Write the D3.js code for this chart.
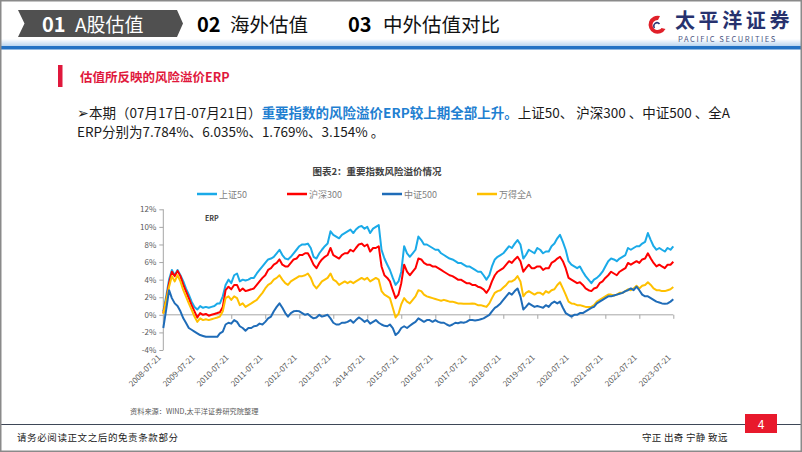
<!DOCTYPE html>
<html><head><meta charset="utf-8">
<script src="https://cdn.jsdelivr.net/npm/d3@7"></script>
<style>
html,body{margin:0;padding:0;background:#fff;}
svg{display:block;}
text{font-family:"Noto Sans CJK SC","Noto Sans",sans-serif;}
</style></head>
<body>
<svg id="c" width="802" height="452"></svg>
<script>
// ---------- DATA ----------
const startDate = "2008-07-21";   // first observation, monthly thereafter
const seriesNames = ["上证50", "沪深300", "中证500", "万得全A"];
const seriesColors = ["#1aaae8", "#ff0000", "#1f6cb8", "#ffc000"];
const tickLabels = ["2008-07-21","2009-07-21","2010-07-21","2011-07-21","2012-07-21","2013-07-21","2014-07-21","2015-07-21","2016-07-21","2017-07-21","2018-07-21","2019-07-21","2020-07-21","2021-07-21","2022-07-21","2023-07-21"];
const yTicks = [-4, -2, 0, 2, 4, 6, 8, 10, 12];

const sz50 = [0.4,2.1,4.0,5.1,4.5,5.1,4.5,3.8,3.0,2.3,1.5,0.9,
0.6,1.0,0.8,0.9,0.8,0.9,1.0,1.3,1.3,2.1,3.4,4.0,
3.6,4.5,4.7,3.8,4.0,3.9,4.0,4.2,4.2,4.7,5.1,5.5,
5.9,6.3,6.4,6.6,7.0,7.4,6.8,6.4,6.3,6.6,7.0,7.4,
7.8,8.0,8.0,8.1,7.6,6.6,6.4,7.0,7.4,7.8,8.1,9.5,
9.1,8.9,8.7,9.1,9.3,9.5,9.7,9.3,9.7,10.0,10.1,9.8,
10.0,9.3,9.8,10.0,10.2,7.4,6.4,5.7,5.1,4.2,3.4,3.8,
4.9,7.8,7.0,6.6,7.0,7.4,8.9,8.5,8.0,8.0,7.8,7.6,
7.4,7.4,7.0,6.8,6.6,6.4,6.3,6.1,5.9,5.9,5.7,5.5,
5.5,5.3,5.1,4.9,4.9,4.5,4.0,4.5,5.5,6.3,6.6,6.8,
7.0,7.4,7.8,7.6,8.1,8.5,8.0,6.4,6.8,7.4,7.2,7.0,
7.6,7.4,7.0,7.2,7.2,7.8,8.1,8.7,9.1,8.3,7.4,6.1,
5.7,5.5,5.3,5.5,4.9,4.4,4.0,3.6,4.0,4.2,4.5,4.9,
5.5,6.1,6.4,6.3,6.1,6.4,6.6,6.8,7.6,7.4,7.6,7.8,
7.8,8.1,8.3,9.3,8.5,7.8,7.4,7.6,7.4,7.2,7.6,7.4,
7.784];
const hs300 = [0.2,1.7,3.6,4.9,4.4,5.0,4.4,3.4,2.7,1.9,1.1,0.4,
-0.3,0.2,0.0,0.1,-0.1,0.0,0.1,0.2,0.3,0.9,2.8,3.2,
2.9,3.4,3.4,2.7,3.0,2.7,2.8,2.9,3.0,3.4,3.8,4.2,
4.5,5.1,5.3,5.7,5.9,6.3,5.7,5.5,5.5,5.9,6.3,6.4,
6.8,6.8,7.0,7.0,6.4,5.7,5.3,5.9,6.3,6.6,6.8,7.6,
6.8,6.6,6.4,6.8,7.0,7.0,7.4,7.2,7.6,8.0,8.1,7.8,
8.0,7.2,7.6,7.6,7.8,5.5,4.5,4.2,3.8,2.8,1.9,2.3,
3.6,5.7,4.9,4.5,4.9,5.3,6.4,6.3,5.9,5.7,5.7,5.5,
5.5,5.3,5.1,4.9,4.7,4.5,4.4,4.2,4.0,4.0,3.8,3.6,
3.6,3.4,3.4,3.2,3.1,2.9,2.5,3.0,3.8,4.5,4.9,5.1,
5.3,5.7,6.1,5.9,6.3,6.6,6.1,4.9,5.3,5.7,5.3,5.3,
5.5,5.5,5.1,5.3,5.3,5.9,6.1,6.4,6.6,6.1,5.3,4.2,
4.0,3.8,3.6,3.7,3.4,3.0,2.8,2.7,3.0,3.1,3.6,3.8,
4.2,4.5,4.9,4.7,4.5,4.9,5.1,5.3,5.9,5.7,5.9,6.1,
5.9,6.3,6.4,7.0,6.4,5.9,5.5,5.7,5.5,5.3,5.7,5.7,
6.035];
const zz500 = [-1.5,0.6,2.8,1.9,1.3,1.0,0.4,-0.4,-0.9,-1.5,-1.7,-1.9,
-2.1,-2.3,-2.4,-2.5,-2.5,-2.5,-2.5,-2.5,-2.1,-1.9,-1.1,-0.9,
-1.0,-0.6,-0.8,-1.3,-1.5,-1.8,-1.5,-1.5,-1.3,-1.25,-1.0,-1.1,
-0.8,-0.4,-0.2,0.4,0.9,1.3,0.8,0.2,-0.2,0.2,0.4,0.45,
0.4,0.2,0.0,0.1,-0.2,-0.4,-0.3,0.0,-0.2,-0.1,0.0,-0.4,
-0.9,-1.1,-1.1,-0.9,-0.9,-0.8,-0.6,-0.9,-0.6,-0.3,-0.5,-0.8,
-0.6,-1.0,-0.8,-0.6,-0.9,-1.1,-1.25,-1.3,-1.1,-1.5,-2.3,-2.0,
-1.5,-1.3,-1.5,-1.25,-1.0,-0.8,-0.4,-0.6,-0.8,-0.6,-0.6,-0.8,
-0.6,-0.8,-0.9,-0.9,-1.1,-1.25,-1.1,-0.9,-0.95,-0.85,-0.9,-0.8,
-0.6,-0.6,-0.65,-0.6,-0.5,-0.4,-0.2,0.0,0.4,0.8,1.0,1.3,
1.7,2.1,2.5,2.3,2.7,3.0,2.1,0.6,0.9,1.3,1.1,0.9,
1.0,0.9,0.8,1.1,0.9,1.3,1.5,1.3,1.5,0.8,0.2,0.0,
-0.2,0.0,0.0,0.2,0.2,0.4,0.6,0.8,0.9,1.3,1.5,1.7,
1.9,2.1,2.1,2.2,2.3,2.4,2.5,2.7,2.8,3.0,2.8,3.2,
2.8,2.3,2.1,2.1,1.9,1.7,1.5,1.4,1.3,1.25,1.3,1.5,
1.769];
const wdqa = [0.1,1.7,3.2,4.4,3.8,4.5,3.8,2.8,2.1,1.3,0.6,-0.2,
-0.8,-0.4,-0.6,-0.5,-0.6,-0.5,-0.4,-0.3,-0.2,0.4,1.9,2.1,
1.7,2.1,1.9,1.1,1.3,0.9,1.1,1.3,1.5,1.7,2.1,2.5,
3.0,3.4,3.6,4.0,4.2,4.5,4.0,3.6,3.4,3.8,4.0,4.2,
4.4,4.4,4.5,4.7,4.2,3.4,3.0,3.4,3.8,4.0,4.2,4.7,
4.0,3.8,3.4,3.6,3.8,3.6,3.8,3.6,3.8,4.0,4.2,4.0,
4.2,3.8,4.0,4.2,4.0,2.7,2.3,2.1,1.9,0.8,-0.3,0.1,
1.2,1.9,1.5,1.3,1.7,2.1,2.8,2.7,2.3,2.1,2.0,1.9,
1.8,1.7,1.6,1.7,1.6,1.5,1.5,1.4,1.3,1.3,1.25,1.25,
1.25,1.3,1.25,1.1,1.1,1.0,0.9,1.3,1.9,2.5,2.7,2.8,
3.1,3.4,3.8,3.8,4.0,4.4,3.8,2.1,2.5,2.7,2.5,2.3,
2.5,2.5,2.3,2.7,2.5,2.8,2.9,3.4,3.7,3.0,2.3,1.5,
1.3,1.25,1.1,1.1,1.0,0.9,0.9,0.9,1.1,1.5,1.7,1.9,
2.1,2.3,2.3,2.2,2.3,2.5,2.5,2.7,2.9,2.8,3.0,3.3,
3.0,3.3,3.4,3.7,3.4,3.0,2.8,2.8,2.7,2.7,2.8,2.9,
3.154];
const seriesValues = [sz50, hs300, zz500, wdqa];
const drawOrder = [0, 1, 3, 2]; // dark blue on top

// ---------- PAGE ----------
const svg = d3.select("#c");
svg.append("rect").attr("x",0).attr("y",0).attr("width",802).attr("height",452).attr("fill","#fff");

// header
const defs = svg.append("defs");
const g1 = defs.append("linearGradient").attr("id","hb").attr("x1",0).attr("y1",0).attr("x2",0).attr("y2",1);
g1.append("stop").attr("offset","0%").attr("stop-color","#ffffff");
g1.append("stop").attr("offset","100%").attr("stop-color","#b9d5f0");
svg.append("rect").attr("x",0).attr("y",39).attr("width",802).attr("height",7).attr("fill","url(#hb)");
svg.append("rect").attr("x",0).attr("y",46).attr("width",802).attr("height",3.5).attr("fill","#2372c4");

svg.append("polygon").attr("points","18,10 177,10 183,23.5 177,37 18,37 24.5,23.5").attr("fill","#505050");
const numFont = '"Liberation Sans Narrow","DejaVu Sans Condensed","Liberation Sans",sans-serif';
svg.append("text").attr("x",42).attr("y",32).attr("fill","#fff").attr("font-family",numFont).attr("font-weight","bold").attr("font-size",20).text("01");
svg.append("text").attr("x",75).attr("y",32).attr("fill","#fff").attr("font-size",19).text("A股估值");
svg.append("text").attr("x",197).attr("y",32).attr("fill","#000").attr("font-family",numFont).attr("font-weight","bold").attr("font-size",20).text("02");
svg.append("text").attr("x",230).attr("y",32).attr("fill","#111").attr("font-size",19.5).text("海外估值");
svg.append("text").attr("x",348).attr("y",32).attr("fill","#000").attr("font-family",numFont).attr("font-weight","bold").attr("font-size",20).text("03");
svg.append("text").attr("x",383).attr("y",32).attr("fill","#111").attr("font-size",19.5).text("中外估值对比");

// logo
const lg = svg.append("g").attr("transform","translate(657,25)");
lg.append("path").attr("d","M3,-9 A9,9 0 1 0 8.5,4 L4.5,3 A5,5 0 1 1 1,-5 Z").attr("fill","#e0202a");
lg.append("path").attr("d","M-2.5,3 A3.2,3.2 0 0 1 2.5,-1").attr("fill","none").attr("stroke","#2a3575").attr("stroke-width",1.6);
svg.append("text").attr("x",675).attr("y",27.5).attr("fill","#27326e").attr("font-weight","bold").attr("font-size",20).attr("letter-spacing",3.6).text("太平洋证券");
svg.append("text").attr("x",678).attr("y",41.5).attr("fill","#4b5683").attr("font-family","'DejaVu Sans',sans-serif").attr("font-size",7.6).attr("letter-spacing",1.55).text("PACIFIC SECURITIES");

// section title
svg.append("rect").attr("x",58).attr("y",65).attr("width",4.5).attr("height",22).attr("fill","#e0183c");
svg.append("text").attr("x",80).attr("y",82).attr("fill","#e0183c").attr("font-weight","bold").attr("font-size",12.5).text("估值所反映的风险溢价ERP");

// body text
const t1 = svg.append("text").attr("x",77).attr("y",118).attr("font-size",13.5).attr("fill","#1a1a1a");
t1.append("tspan").text("➢本期（07月17日-07月21日）");
t1.append("tspan").attr("fill","#1f7fd1").attr("font-weight","bold").text("重要指数的风险溢价ERP较上期全部上升。");
t1.append("tspan").text("上证50、 沪深300 、中证500 、全A");
svg.append("text").attr("x",77).attr("y",137).attr("font-size",13.5).attr("fill","#1a1a1a").text("ERP分别为7.784%、6.035%、1.769%、3.154% 。");

// ---------- CHART ----------
const x = d3.scaleUtc().domain([new Date(startDate), new Date("2023-07-21")]).range([163.3, 673.3]);
const y = d3.scaleLinear().domain([-4, 12]).range([350, 209.3]);
const parseD = d3.utcParse("%Y-%m-%d");
const t0 = parseD(startDate);
const dates = sz50.map((_, i) => d3.utcMonth.offset(t0, i));

svg.append("text").attr("x",377).attr("y",175).attr("text-anchor","middle").attr("font-weight","bold").attr("font-size",9.5).attr("fill","#404040").text("图表2：重要指数风险溢价情况");

// legend
const legX = [197, 287, 382, 477];
seriesNames.forEach((n, i) => {
  svg.append("line").attr("x1",legX[i]).attr("x2",legX[i]+20).attr("y1",194).attr("y2",194).attr("stroke",seriesColors[i]).attr("stroke-width",2.5);
  svg.append("text").attr("x",legX[i]+22).attr("y",197.5).attr("font-size",9).attr("fill","#7f7f7f").text(n);
});

// y axis
const yAxis = svg.append("g").attr("transform","translate(163.3,0)")
  .call(d3.axisLeft(y).tickValues(yTicks).tickSize(4).tickPadding(3).tickFormat(d => d + "%"));
yAxis.selectAll("path,line").attr("stroke","#a6a6a6");
yAxis.select(".domain").attr("d","M0,209.3V350");
yAxis.selectAll("text").attr("font-family","Lato,'Open Sans',sans-serif").attr("font-size",8).attr("fill","#595959");

// x axis at 0
const xTickDates = tickLabels.map(parseD);
const xAxis = svg.append("g").attr("transform",`translate(0,${y(0)})`)
  .call(d3.axisBottom(x).tickValues(xTickDates).tickSize(4).tickFormat(""));
xAxis.selectAll("path,line").attr("stroke","#a6a6a6");
xAxis.select(".domain").attr("d",`M${x.range()[0]},0H${x.range()[1]}`);
svg.append("g").selectAll("text").data(xTickDates).join("text")
  .attr("transform", d => `translate(${x(d)-2},358) rotate(-45)`)
  .attr("text-anchor","end").attr("font-family","Lato,'Open Sans',sans-serif").attr("font-size",8).attr("fill","#595959")
  .text((d, i) => tickLabels[i]);

svg.append("text").attr("x",205).attr("y",220.5).attr("font-family","Lato,'Open Sans',sans-serif").attr("font-weight","bold").attr("font-size",7).attr("fill","#404040").text("ERP");

// lines
const line = d3.line().x((d, i) => x(dates[i])).y(d => y(d)).curve(d3.curveLinear);
drawOrder.forEach(k => {
  svg.append("path").datum(seriesValues[k]).attr("d", line).attr("fill","none")
    .attr("stroke", seriesColors[k]).attr("stroke-width", 2).attr("stroke-linejoin","round");
});

svg.append("text").attr("x",130).attr("y",414).attr("font-size",7.2).attr("fill","#595959").text("资料来源：WIND,太平洋证券研究院整理");

// footer
svg.append("line").attr("x1",0).attr("x2",802).attr("y1",424.5).attr("y2",424.5).attr("stroke","#3e4757").attr("stroke-width",1.2);
svg.append("rect").attr("x",745).attr("y",414).attr("width",32).attr("height",19).attr("fill","#e8192c");
svg.append("text").attr("x",761).attr("y",428.5).attr("text-anchor","middle").attr("font-size",12).attr("fill","#fff").text("4");
svg.append("text").attr("x",17).attr("y",441).attr("font-size",9.5).attr("letter-spacing",0.6).attr("fill","#222").text("请务必阅读正文之后的免责条款部分");
svg.append("text").attr("x",642).attr("y",441).attr("font-size",9.5).attr("letter-spacing",0.3).attr("fill","#222").text("守正 出奇 宁静 致远");

// border
svg.append("rect").attr("x",0.75).attr("y",0.75).attr("width",800.5).attr("height",450.5).attr("fill","none").attr("stroke","#8a8a8a").attr("stroke-width",1.5);
</script>
</body></html>
